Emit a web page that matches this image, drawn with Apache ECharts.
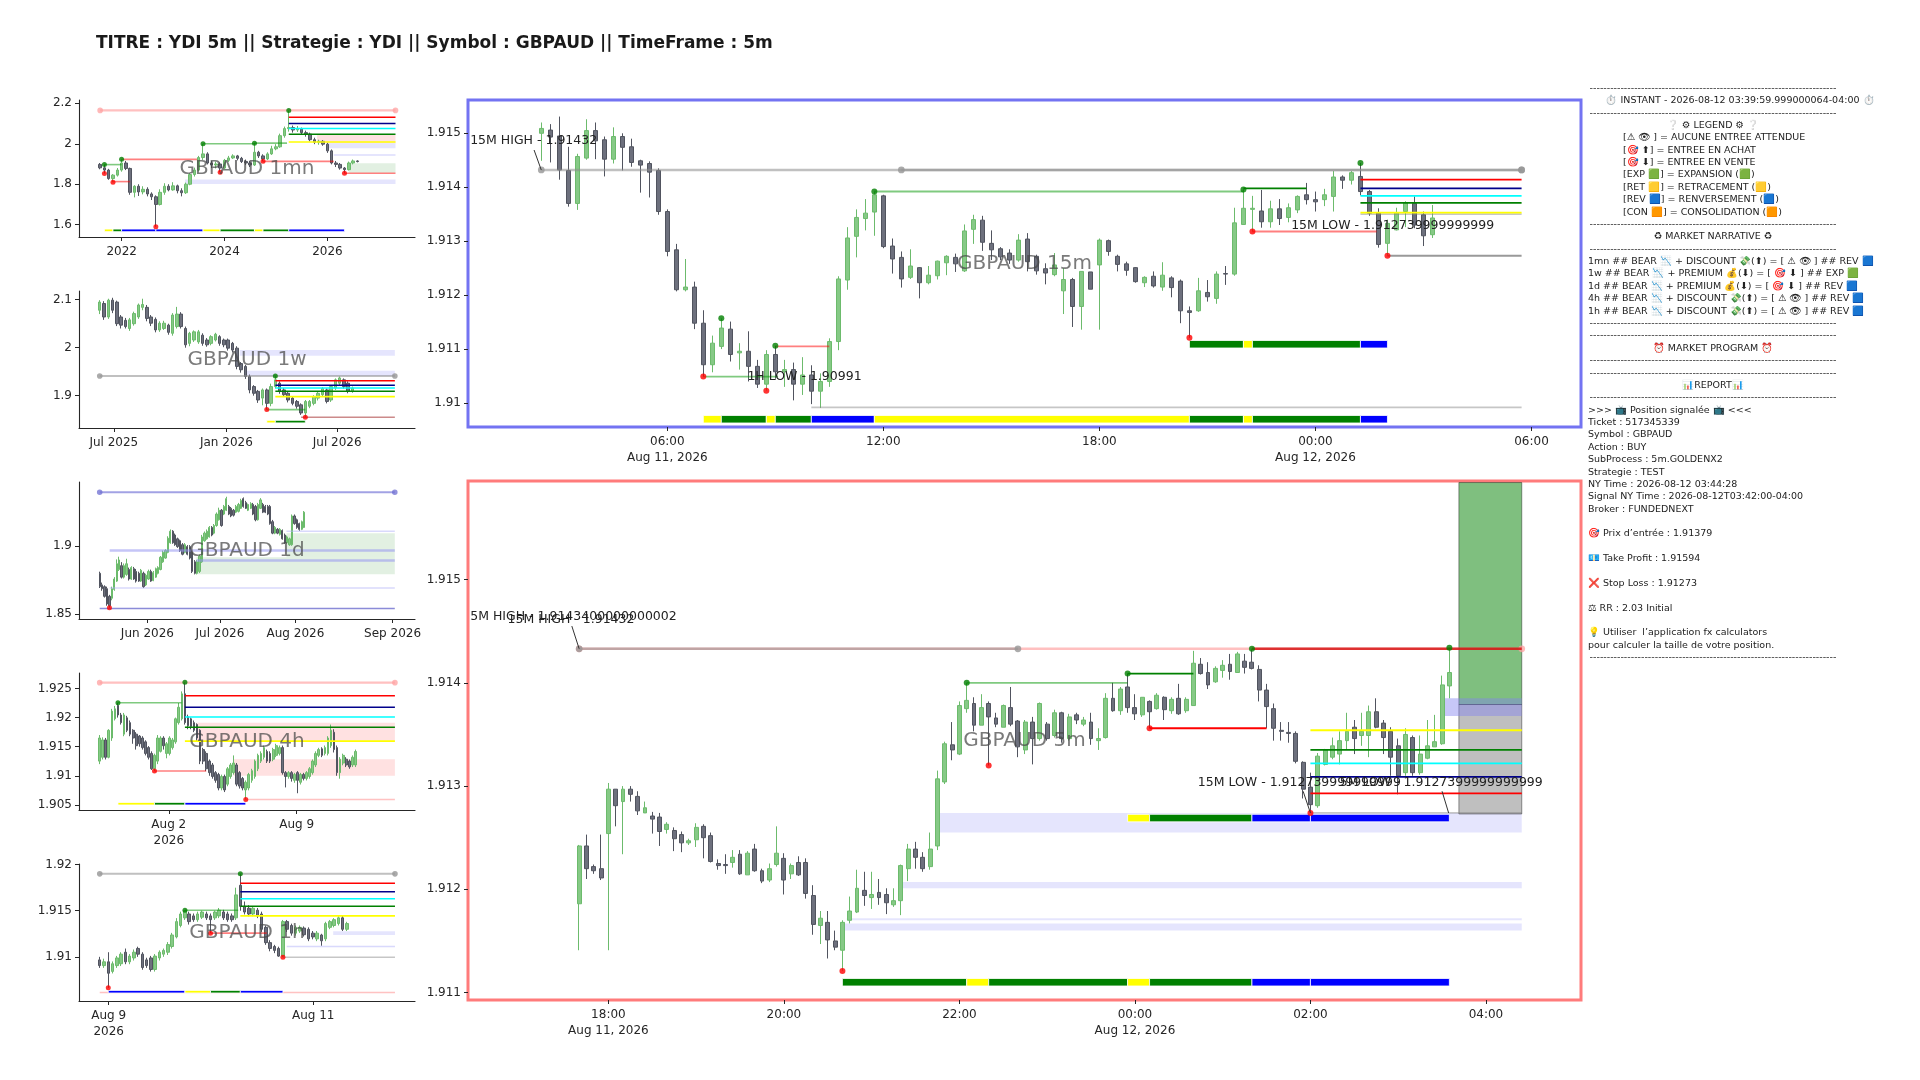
<!DOCTYPE html>
<html>
<head>
<meta charset="utf-8">
<title>YDI 5m GBPAUD</title>
<script src="https://cdn.jsdelivr.net/npm/echarts@6/dist/echarts.min.js"></script>
<style>
  html, body { margin: 0; padding: 0; background: #fff; }
  #chart { width: 1920px; height: 1080px; }
</style>
</head>
<body>
<div id="chart"></div>
<script>
// ---------- data (x in candle index units, prices) ----------
// candles are [open, close, low, high]

const m1Candles = [
  [1.898,1.881,1.874,1.905],[1.881,1.870,1.853,1.897],[1.870,1.828,1.822,1.876],[1.828,1.845,1.810,1.850],
  [1.845,1.870,1.838,1.880],[1.870,1.905,1.862,1.923],[1.905,1.878,1.870,1.915],[1.878,1.760,1.748,1.882],
  [1.760,1.790,1.735,1.795],[1.790,1.762,1.742,1.800],[1.762,1.775,1.750,1.790],[1.775,1.752,1.740,1.785],
  [1.752,1.738,1.722,1.760],[1.738,1.700,1.590,1.745],[1.700,1.760,1.695,1.775],[1.760,1.790,1.748,1.805],
  [1.790,1.772,1.765,1.800],[1.772,1.792,1.768,1.810],[1.792,1.768,1.755,1.798],[1.768,1.758,1.740,1.780],
  [1.758,1.800,1.752,1.808],[1.800,1.848,1.795,1.855],[1.848,1.870,1.838,1.882],[1.870,1.932,1.865,1.940],
  [1.932,1.950,1.920,2.000],[1.950,1.905,1.898,1.958],[1.905,1.895,1.880,1.915],[1.895,1.900,1.878,1.912],
  [1.900,1.880,1.859,1.908],[1.880,1.918,1.875,1.925],[1.918,1.930,1.910,1.940],[1.930,1.940,1.925,1.948],
  [1.940,1.928,1.918,1.945],[1.928,1.912,1.905,1.935],[1.912,1.905,1.895,1.922],[1.905,1.895,1.885,1.915],
  [1.895,1.958,1.890,2.003],[1.958,1.940,1.930,1.965],[1.940,1.925,1.913,1.948],[1.925,1.950,1.920,1.958],
  [1.950,1.975,1.945,1.990],[1.975,1.985,1.968,1.998],[1.985,2.040,1.980,2.050],[2.040,2.075,2.030,2.085],
  [2.075,2.080,2.060,2.164],[2.080,2.068,2.055,2.090],[2.068,2.072,2.058,2.088],[2.072,2.055,2.045,2.080],
  [2.055,2.048,2.035,2.065],[2.048,2.020,2.012,2.055],[2.020,2.008,1.998,2.030],[2.008,2.012,1.995,2.020],
  [2.012,1.998,1.990,2.018],[1.998,1.965,1.955,2.005],[1.965,1.905,1.898,1.972],[1.905,1.898,1.885,1.915],
  [1.898,1.880,1.872,1.905],[1.880,1.872,1.854,1.885],[1.872,1.905,1.868,1.912],[1.905,1.915,1.898,1.922],
  [1.915,1.912,1.908,1.918]
];

const w1Candles = [
  [2.078,2.095,2.070,2.099],[2.092,2.064,2.058,2.097],[2.064,2.099,2.060,2.102],[2.099,2.078,2.072,2.104],
  [2.095,2.050,2.045,2.098],[2.064,2.047,2.040,2.068],[2.057,2.044,2.040,2.062],[2.040,2.058,2.035,2.062],
  [2.050,2.071,2.046,2.075],[2.064,2.089,2.060,2.092],[2.084,2.090,2.078,2.102],[2.084,2.061,2.055,2.089],
  [2.064,2.051,2.045,2.068],[2.059,2.037,2.032,2.063],[2.037,2.051,2.033,2.055],[2.040,2.051,2.037,2.056],
  [2.047,2.032,2.027,2.050],[2.030,2.068,2.025,2.072],[2.044,2.070,2.040,2.085],[2.070,2.044,2.040,2.074],
  [2.040,2.006,2.000,2.044],[2.009,2.030,2.003,2.033],[2.016,2.033,2.012,2.036],[2.012,2.033,2.008,2.037],
  [2.026,2.009,2.004,2.030],[2.016,2.006,2.002,2.020],[2.009,2.023,2.005,2.026],[2.016,2.028,2.013,2.031],
  [2.023,2.009,2.004,2.026],[2.016,2.006,2.001,2.019],[2.016,1.999,1.994,2.019],[2.009,1.995,1.990,2.012],
  [1.999,1.961,1.955,2.003],[1.967,1.954,1.948,1.970],[1.961,1.940,1.935,1.964],[1.940,1.912,1.905,1.944],
  [1.919,1.905,1.900,1.922],[1.909,1.891,1.885,1.912],[1.895,1.912,1.880,1.915],[1.912,1.884,1.871,1.915],
  [1.884,1.919,1.878,1.925],[1.919,1.933,1.915,1.941],[1.926,1.909,1.904,1.930],[1.912,1.902,1.898,1.916],
  [1.905,1.891,1.886,1.908],[1.895,1.884,1.880,1.898],[1.888,1.878,1.873,1.891],[1.881,1.864,1.860,1.884],
  [1.864,1.888,1.855,1.891],[1.878,1.888,1.874,1.891],[1.884,1.898,1.880,1.901],[1.895,1.905,1.890,1.909],
  [1.902,1.915,1.898,1.918],[1.912,1.888,1.884,1.915],[1.891,1.919,1.887,1.922],[1.916,1.933,1.912,1.936],
  [1.926,1.937,1.922,1.940],[1.933,1.919,1.915,1.936],[1.926,1.909,1.905,1.930],[1.909,1.916,1.906,1.919]
];

const d1Candles = [
  [1.8798,1.8700,1.8690,1.8810],[1.8713,1.8685,1.8670,1.8730],[1.8700,1.8629,1.8620,1.8710],[1.8685,1.8573,1.8560,1.8700],
  [1.8629,1.8559,1.8545,1.8640],[1.8615,1.8685,1.8600,1.8700],[1.8680,1.8756,1.8670,1.8770],[1.8741,1.8868,1.8735,1.8900],
  [1.8826,1.8896,1.8815,1.8920],[1.8854,1.8770,1.8760,1.8880],[1.8770,1.8854,1.8760,1.8870],[1.8790,1.8868,1.8780,1.8905],
  [1.8826,1.8756,1.8745,1.8840],[1.8756,1.8840,1.8750,1.8850],[1.8832,1.8756,1.8750,1.8845],[1.8812,1.8741,1.8730,1.8830],
  [1.8798,1.8741,1.8735,1.8810],[1.8741,1.8820,1.8735,1.8830],[1.8798,1.8700,1.8690,1.8810],[1.8713,1.8784,1.8705,1.8795],
  [1.8756,1.8812,1.8750,1.8825],[1.8812,1.8741,1.8735,1.8825],[1.8745,1.8803,1.8740,1.8815],[1.8770,1.8832,1.8765,1.8840],
  [1.8798,1.8840,1.8790,1.8850],[1.8826,1.8916,1.8820,1.8925],[1.8882,1.8952,1.8875,1.8965],[1.8910,1.8966,1.8905,1.8975],
  [1.8952,1.9056,1.8945,1.9070],[1.9022,1.9107,1.9015,1.9120],[1.9107,1.9022,1.9015,1.9115],[1.9079,1.9008,1.9000,1.9090],
  [1.9051,1.8994,1.8985,1.9060],[1.9037,1.8966,1.8955,1.9045],[1.9008,1.8938,1.8930,1.9020],[1.8952,1.9008,1.8945,1.9020],
  [1.8994,1.8938,1.8930,1.9005],[1.8994,1.8910,1.8900,1.9005],[1.8952,1.8812,1.8800,1.8965],[1.8882,1.8798,1.8790,1.8895],
  [1.8798,1.8882,1.8790,1.8895],[1.8812,1.8924,1.8800,1.8935],[1.8882,1.9065,1.8875,1.9080],[1.9037,1.9093,1.9030,1.9105],
  [1.9051,1.9107,1.9045,1.9120],[1.9065,1.9135,1.9060,1.9145],[1.9135,1.9079,1.9070,1.9145],[1.9093,1.9149,1.9085,1.9160],
  [1.9149,1.9233,1.9140,1.9245],[1.9191,1.9261,1.9185,1.9280],[1.9261,1.9149,1.9140,1.9270],[1.9233,1.9289,1.9225,1.9300],
  [1.9261,1.9346,1.9255,1.9360],[1.9289,1.9233,1.9225,1.9300],[1.9275,1.9219,1.9210,1.9285],[1.9261,1.9225,1.9215,1.9270],
  [1.9247,1.9289,1.9240,1.9300],[1.9253,1.9303,1.9245,1.9315],[1.9275,1.9332,1.9270,1.9345],[1.9346,1.9289,1.9280,1.9355],
  [1.9317,1.9275,1.9270,1.9330],[1.9261,1.9303,1.9255,1.9310],[1.9275,1.9309,1.9270,1.9320],[1.9303,1.9233,1.9225,1.9315],
  [1.9289,1.9191,1.9180,1.9300],[1.9191,1.9303,1.9185,1.9315],[1.9275,1.9337,1.9270,1.9350],[1.9303,1.9247,1.9240,1.9315],
  [1.9289,1.9247,1.9240,1.9300],[1.9289,1.9233,1.9225,1.9300],[1.9289,1.9163,1.9155,1.9300],[1.9177,1.9093,1.9085,1.9190],
  [1.9093,1.9135,1.9085,1.9145],[1.9121,1.9093,1.9085,1.9130],[1.9084,1.9121,1.9075,1.9130],[1.9112,1.9051,1.9045,1.9120],
  [1.9079,1.9022,1.9015,1.9090],[1.9022,1.9065,1.9015,1.9075],[1.9008,1.9051,1.9000,1.9060],[1.9008,1.9219,1.9000,1.9230],
  [1.9219,1.9163,1.9155,1.9230],[1.9191,1.9135,1.9125,1.9200],[1.9163,1.9121,1.9110,1.9170],[1.9121,1.9177,1.9115,1.9185],
  [1.9135,1.9247,1.9130,1.9255]
];

const h4Candles = [
  [1.91252,1.91649,1.91200,1.91700],[1.91318,1.91616,1.91280,1.91660],[1.91616,1.91318,1.91280,1.91650],[1.91318,1.91781,1.91300,1.91800],
  [1.91649,1.92111,1.91600,1.92150],[1.91979,1.92150,1.91950,1.92200],[1.92210,1.92045,1.92000,1.92256],[1.92045,1.91913,1.91880,1.92080],
  [1.91715,1.92045,1.91680,1.92080],[1.91996,1.91781,1.91750,1.92030],[1.91913,1.91715,1.91680,1.91950],[1.91781,1.91649,1.91550,1.91800],
  [1.91715,1.91517,1.91450,1.91750],[1.91682,1.91550,1.91500,1.91700],[1.91649,1.91484,1.91450,1.91680],[1.91583,1.91384,1.91350,1.91610],
  [1.91484,1.91318,1.91280,1.91510],[1.91384,1.91120,1.91100,1.91420],[1.91120,1.91351,1.91081,1.91380],[1.91252,1.91649,1.91200,1.91700],
  [1.91420,1.91649,1.91400,1.91680],[1.91649,1.91517,1.91450,1.91680],[1.91384,1.91550,1.91300,1.91580],[1.91384,1.91649,1.91350,1.91680],
  [1.91484,1.91616,1.91450,1.91650],[1.91583,1.91979,1.91550,1.92000],[1.91913,1.92177,1.91880,1.92250],[1.91979,1.92408,1.91950,1.92450],
  [1.92408,1.91913,1.91880,1.92606],[1.92012,1.91860,1.91800,1.92050],[1.91979,1.91847,1.91800,1.92000],[1.91913,1.91781,1.91750,1.91950],
  [1.91880,1.91649,1.91600,1.91900],[1.91781,1.91252,1.91200,1.91800],[1.91450,1.91252,1.91200,1.91480],[1.91384,1.91120,1.91080,1.91420],
  [1.91252,1.91054,1.91000,1.91280],[1.91186,1.90988,1.90950,1.91220],[1.91054,1.90922,1.90880,1.91080],[1.91021,1.90790,1.90750,1.91050],
  [1.90790,1.90988,1.90750,1.91020],[1.90988,1.90757,1.90720,1.91020],[1.90856,1.91120,1.90820,1.91150],[1.90988,1.91186,1.90950,1.91220],
  [1.91054,1.91219,1.91020,1.91350],[1.91186,1.90856,1.90820,1.91220],[1.91054,1.90823,1.90780,1.91080],[1.90955,1.90790,1.90750,1.90980],
  [1.90757,1.90889,1.90592,1.90920],[1.90790,1.91021,1.90750,1.91050],[1.90922,1.91087,1.90880,1.91120],[1.90988,1.91252,1.90950,1.91280],
  [1.91120,1.91351,1.91080,1.91380],[1.91252,1.91384,1.91220,1.91420],[1.91318,1.91484,1.91280,1.91520],[1.91417,1.91252,1.91220,1.91450],
  [1.91384,1.91252,1.91220,1.91420],[1.91285,1.91450,1.91250,1.91480],[1.91351,1.91517,1.91320,1.91550],[1.91384,1.91484,1.91350,1.91520],
  [1.91484,1.91054,1.91020,1.91520],[1.91054,1.90988,1.90800,1.91080],[1.90988,1.91054,1.90950,1.91080],[1.91054,1.90955,1.90900,1.91080],
  [1.90922,1.91021,1.90880,1.91050],[1.91054,1.90922,1.90700,1.91080],[1.90889,1.91021,1.90850,1.91050],[1.91021,1.90955,1.90920,1.91050],
  [1.90955,1.91054,1.90920,1.91080],[1.90988,1.91120,1.90950,1.91150],[1.91054,1.91252,1.91020,1.91280],[1.91186,1.91384,1.91150,1.91420],
  [1.91351,1.91450,1.91320,1.91480],[1.91463,1.91351,1.91320,1.91490],[1.91384,1.91484,1.91350,1.91520],[1.91384,1.91649,1.91350,1.91680],
  [1.91517,1.91781,1.91480,1.91880],[1.91748,1.91450,1.91400,1.91800],[1.91484,1.91054,1.91000,1.91520],[1.91054,1.91285,1.90950,1.91320],
  [1.91219,1.91351,1.91180,1.91380],[1.91285,1.91186,1.91150,1.91320],[1.91252,1.91153,1.91120,1.91280],[1.91186,1.91318,1.91150,1.91350],
  [1.91186,1.91417,1.91150,1.91450]
];

const h1Candles = [
  [1.90967,1.90905,1.90880,1.91000],[1.90905,1.90946,1.90880,1.90980],[1.90946,1.90822,1.90664,1.91050],[1.90842,1.90925,1.90820,1.90950],
  [1.90905,1.90988,1.90880,1.91010],[1.90925,1.91029,1.90900,1.91050],[1.91050,1.90946,1.90920,1.91090],[1.90946,1.91008,1.90920,1.91030],
  [1.90988,1.91050,1.90960,1.91080],[1.91091,1.91029,1.91000,1.91110],[1.91029,1.90884,1.90860,1.91050],[1.90967,1.90905,1.90880,1.90990],
  [1.90988,1.90863,1.90840,1.91010],[1.90863,1.91008,1.90840,1.91030],[1.90988,1.91050,1.90960,1.91070],[1.91029,1.91070,1.91000,1.91090],
  [1.91050,1.91133,1.91020,1.91160],[1.91112,1.91237,1.91090,1.91260],[1.91216,1.91382,1.91200,1.91420],[1.91340,1.91465,1.91320,1.91490],
  [1.91423,1.91500,1.91400,1.91506],[1.91465,1.91382,1.91350,1.91490],[1.91444,1.91403,1.91380,1.91470],[1.91403,1.91465,1.91380,1.91490],
  [1.91430,1.91486,1.91410,1.91500],[1.91465,1.91423,1.91400,1.91490],[1.91444,1.91403,1.91257,1.91470],[1.91423,1.91486,1.91400,1.91500],
  [1.91444,1.91506,1.91420,1.91530],[1.91486,1.91423,1.91400,1.91510],[1.91465,1.91403,1.91380,1.91490],[1.91444,1.91403,1.91380,1.91470],
  [1.91423,1.91672,1.91400,1.91750],[1.91776,1.91548,1.91500,1.91900],[1.91548,1.91486,1.91460,1.91600],[1.91527,1.91465,1.91440,1.91560],
  [1.91465,1.91527,1.91440,1.91550],[1.91506,1.91444,1.91420,1.91530],[1.91465,1.91299,1.91270,1.91490],[1.91320,1.91154,1.91130,1.91340],
  [1.91154,1.91091,1.91060,1.91180],[1.91112,1.91070,1.91040,1.91130],[1.91091,1.91008,1.91000,1.91110],[1.91008,1.91382,1.90996,1.91400],
  [1.91382,1.91299,1.91270,1.91400],[1.91340,1.91257,1.91230,1.91360],[1.91257,1.91320,1.91230,1.91340],[1.91280,1.91320,1.91260,1.91340],
  [1.91312,1.91240,1.91220,1.91330],[1.91299,1.91195,1.91170,1.91320],[1.91257,1.91216,1.91190,1.91280],[1.91195,1.91257,1.91170,1.91280],
  [1.91237,1.91174,1.91120,1.91250],[1.91195,1.91361,1.91170,1.91380],[1.91320,1.91382,1.91300,1.91400],[1.91340,1.91403,1.91320,1.91420],
  [1.91361,1.91423,1.91340,1.91440],[1.91423,1.91299,1.91280,1.91450],[1.91299,1.91361,1.91280,1.91380]
];

// 15m, Aug 11 02:30 -> Aug 12 03:15
const m15Candles = [
  [1.91500,1.91509,1.91449,1.91520],[1.91506,1.91493,1.91446,1.91517],[1.91495,1.91432,1.91414,1.91531],[1.91431,1.91370,1.91364,1.91475],
  [1.91370,1.91457,1.91358,1.91462],[1.91454,1.91505,1.91451,1.91526],[1.91505,1.91486,1.91452,1.91520],[1.91488,1.91452,1.91420,1.91494],
  [1.91452,1.91494,1.91444,1.91511],[1.91494,1.91474,1.91431,1.91500],[1.91475,1.91446,1.91438,1.91490],[1.91449,1.91441,1.91390,1.91451],
  [1.91444,1.91428,1.91381,1.91448],[1.91431,1.91355,1.91349,1.91435],[1.91355,1.91281,1.91272,1.91359],[1.91284,1.91210,1.91207,1.91295],
  [1.91210,1.91215,1.91207,1.91267],[1.91215,1.91148,1.91137,1.91225],[1.91148,1.91071,1.91049,1.91172],[1.91071,1.91111,1.91057,1.91125],
  [1.91105,1.91139,1.91100,1.91157],[1.91137,1.91090,1.91077,1.91151],[1.91093,1.91096,1.91062,1.91111],[1.91096,1.91068,1.91040,1.91133],
  [1.91068,1.91035,1.91028,1.91080],[1.91035,1.91090,1.91023,1.91098],[1.91090,1.91058,1.91045,1.91106],[1.91058,1.91062,1.91030,1.91080],
  [1.91062,1.91035,1.91005,1.91075],[1.91035,1.91052,1.91015,1.91085],[1.91052,1.91022,1.90998,1.91070],[1.91022,1.91040,1.90991,1.91055],
  [1.91040,1.91114,1.91030,1.91120],[1.91114,1.91230,1.91098,1.91235],[1.91228,1.91306,1.91210,1.91326],[1.91309,1.91344,1.91270,1.91359],
  [1.91342,1.91352,1.91320,1.91378],[1.91354,1.91386,1.91310,1.91392],[1.91384,1.91290,1.91287,1.91386],[1.91291,1.91267,1.91240,1.91305],
  [1.91270,1.91230,1.91214,1.91281],[1.91233,1.91254,1.91230,1.91285],[1.91251,1.91223,1.91194,1.91252],[1.91223,1.91237,1.91220,1.91254],
  [1.91236,1.91263,1.91229,1.91264],[1.91260,1.91272,1.91237,1.91274],[1.91270,1.91258,1.91243,1.91277],[1.91245,1.91319,1.91243,1.91331],
  [1.91322,1.91340,1.91295,1.91349],[1.91339,1.91298,1.91282,1.91347],[1.91296,1.91284,1.91265,1.91320],[1.91286,1.91271,1.91265,1.91289],
  [1.91278,1.91265,1.91258,1.91285],[1.91265,1.91302,1.91262,1.91313],[1.91304,1.91262,1.91244,1.91315],[1.91272,1.91245,1.91238,1.91275],
  [1.91249,1.91241,1.91220,1.91259],[1.91238,1.91256,1.91235,1.91278],[1.91208,1.91229,1.91165,1.91250],[1.91229,1.91179,1.91141,1.91232],
  [1.91179,1.91244,1.91136,1.91244],[1.91243,1.91211,1.91211,1.91243],[1.91256,1.91302,1.91136,1.91305],[1.91301,1.91281,1.91273,1.91303],
  [1.91272,1.91257,1.91244,1.91275],[1.91258,1.91246,1.91236,1.91262],[1.91251,1.91225,1.91223,1.91252],[1.91223,1.91233,1.91215,1.91235],
  [1.91235,1.91217,1.91214,1.91244],[1.91215,1.91237,1.91208,1.91261],[1.91232,1.91214,1.91196,1.91235],[1.91226,1.91171,1.91148,1.91229],
  [1.91171,1.91168,1.91121,1.91179],[1.91171,1.91208,1.91169,1.91232],[1.91205,1.91197,1.91188,1.91228],[1.91194,1.91239,1.91184,1.91244],
  [1.91240,1.91239,1.91219,1.91254],[1.91239,1.91334,1.91236,1.91362],[1.91331,1.91361,1.91331,1.91396],[1.91359,1.91361,1.91318,1.91384],
  [1.91356,1.91336,1.91325,1.91395],[1.91336,1.91360,1.91325,1.91375],[1.91360,1.91342,1.91330,1.91378],[1.91344,1.91362,1.91335,1.91370],
  [1.91358,1.91383,1.91352,1.91385],[1.91386,1.91377,1.91368,1.91408],[1.91377,1.91373,1.91355,1.91392],[1.91377,1.91386,1.91365,1.91397],
  [1.91383,1.91419,1.91355,1.91430],[1.91419,1.91413,1.91397,1.91422],[1.91413,1.91427,1.91405,1.91430],[1.91420,1.91392,1.91385,1.91445],
  [1.91392,1.91352,1.91347,1.91395],[1.91352,1.91294,1.91288,1.91361],[1.91296,1.91333,1.91273,1.91340],[1.91321,1.91352,1.91320,1.91362],
  [1.91355,1.91371,1.91326,1.91374],[1.91370,1.91330,1.91324,1.91383],[1.91349,1.91310,1.91291,1.91355],[1.91312,1.91343,1.91306,1.91367]
];

// 5m, Aug 11 17:40 -> Aug 12 03:35
const m5Candles = [
  [1.91186,1.91242,1.91141,1.91243],[1.91242,1.91220,1.91210,1.91253],[1.91222,1.91218,1.91215,1.91224],[1.91220,1.91211,1.91209,1.91253],
  [1.91254,1.91297,1.91141,1.91303],[1.91297,1.91281,1.91261,1.91297],[1.91285,1.91297,1.91234,1.91300],[1.91297,1.91292,1.91285,1.91300],
  [1.91290,1.91276,1.91272,1.91295],[1.91274,1.91279,1.91274,1.91285],[1.91271,1.91268,1.91254,1.91275],[1.91270,1.91256,1.91242,1.91274],
  [1.91258,1.91263,1.91254,1.91265],[1.91257,1.91249,1.91237,1.91260],[1.91253,1.91245,1.91236,1.91256],[1.91245,1.91247,1.91243,1.91249],
  [1.91248,1.91260,1.91241,1.91264],[1.91261,1.91250,1.91230,1.91263],[1.91252,1.91227,1.91226,1.91255],[1.91225,1.91223,1.91219,1.91229],
  [1.91224,1.91223,1.91215,1.91234],[1.91226,1.91231,1.91221,1.91238],[1.91234,1.91215,1.91214,1.91238],[1.91214,1.91235,1.91214,1.91237],
  [1.91239,1.91218,1.91217,1.91244],[1.91218,1.91208,1.91206,1.91220],[1.91209,1.91220,1.91207,1.91225],[1.91224,1.91235,1.91222,1.91261],
  [1.91230,1.91209,1.91195,1.91235],[1.91215,1.91223,1.91210,1.91225],[1.91226,1.91214,1.91213,1.91232],[1.91226,1.91196,1.91191,1.91230],
  [1.91194,1.91166,1.91156,1.91204],[1.91165,1.91172,1.91147,1.91179],[1.91168,1.91151,1.91133,1.91179],[1.91150,1.91144,1.91141,1.91160],
  [1.91141,1.91168,1.91121,1.91170],[1.91170,1.91179,1.91167,1.91193],[1.91178,1.91201,1.91177,1.91219],[1.91199,1.91194,1.91184,1.91217],
  [1.91192,1.91195,1.91181,1.91217],[1.91197,1.91192,1.91185,1.91210],[1.91195,1.91187,1.91176,1.91201],[1.91185,1.91189,1.91183,1.91201],
  [1.91189,1.91223,1.91175,1.91224],[1.91220,1.91239,1.91208,1.91244],[1.91239,1.91231,1.91220,1.91246],[1.91231,1.91220,1.91217,1.91236],
  [1.91222,1.91239,1.91219,1.91255],[1.91242,1.91307,1.91238,1.91315],[1.91304,1.91341,1.91302,1.91343],[1.91340,1.91335,1.91325,1.91362],
  [1.91331,1.91378,1.91330,1.91382],[1.91375,1.91383,1.91371,1.91400],[1.91380,1.91359,1.91353,1.91386],[1.91359,1.91376,1.91359,1.91389],
  [1.91380,1.91367,1.91320,1.91382],[1.91366,1.91360,1.91357,1.91371],[1.91357,1.91378,1.91357,1.91379],[1.91376,1.91360,1.91358,1.91396],
  [1.91363,1.91338,1.91328,1.91364],[1.91335,1.91362,1.91331,1.91364],[1.91362,1.91346,1.91321,1.91367],[1.91346,1.91380,1.91344,1.91381],
  [1.91360,1.91346,1.91344,1.91362],[1.91349,1.91371,1.91347,1.91374],[1.91371,1.91346,1.91342,1.91372],[1.91346,1.91367,1.91344,1.91370],
  [1.91369,1.91364,1.91360,1.91371],[1.91360,1.91364,1.91358,1.91367],[1.91362,1.91346,1.91340,1.91371],[1.91344,1.91346,1.91335,1.91356],
  [1.91347,1.91385,1.91346,1.91390],[1.91385,1.91373,1.91372,1.91400],[1.91373,1.91394,1.91369,1.91396],[1.91396,1.91376,1.91371,1.91409],
  [1.91376,1.91370,1.91364,1.91389],[1.91369,1.91386,1.91367,1.91386],[1.91382,1.91372,1.91356,1.91383],[1.91375,1.91388,1.91374,1.91390],
  [1.91386,1.91374,1.91364,1.91387],[1.91373,1.91384,1.91370,1.91386],[1.91385,1.91370,1.91369,1.91399],[1.91373,1.91384,1.91371,1.91386],
  [1.91378,1.91419,1.91378,1.91431],[1.91418,1.91409,1.91408,1.91424],[1.91410,1.91398,1.91394,1.91420],[1.91401,1.91414,1.91400,1.91416],
  [1.91412,1.91417,1.91405,1.91422],[1.91418,1.91411,1.91403,1.91428],[1.91410,1.91428,1.91410,1.91430],[1.91421,1.91415,1.91409,1.91428],
  [1.91420,1.91414,1.91413,1.91433],[1.91413,1.91393,1.91382,1.91417],[1.91393,1.91377,1.91356,1.91399],[1.91375,1.91356,1.91344,1.91380],
  [1.91354,1.91353,1.91344,1.91362],[1.91352,1.91351,1.91342,1.91362],[1.91351,1.91324,1.91322,1.91353],[1.91323,1.91297,1.91288,1.91324],
  [1.91299,1.91282,1.91274,1.91313],[1.91281,1.91329,1.91279,1.91332],[1.91321,1.91335,1.91320,1.91336],[1.91328,1.91339,1.91326,1.91347],
  [1.91331,1.91344,1.91321,1.91353],[1.91344,1.91353,1.91335,1.91371],[1.91357,1.91346,1.91331,1.91364],[1.91349,1.91353,1.91339,1.91371],
  [1.91349,1.91372,1.91328,1.91378],[1.91372,1.91357,1.91356,1.91385],[1.91361,1.91347,1.91331,1.91364],[1.91353,1.91328,1.91310,1.91357],
  [1.91339,1.91310,1.91292,1.91346],[1.91313,1.91350,1.91310,1.91356],[1.91347,1.91313,1.91310,1.91349],[1.91313,1.91331,1.91311,1.91349],
  [1.91327,1.91339,1.91326,1.91364],[1.91338,1.91343,1.91338,1.91369],[1.91341,1.91398,1.91340,1.91407],[1.91397,1.91410,1.91385,1.91434]
];

// horizontal levels: [fromIndex, toIndex, price, kind]
const m1Levels = [
  [0,68.9,2.165,'liqPink'],[44,68.9,2.131,'r'],[44,68.9,2.100,'n'],[44,68.9,2.075,'c'],[44,68.9,2.047,'g'],[44,68.9,2.009,'y'],
  [57,68.9,1.854,'lo'],[38,54.5,1.913,'lo'],[5,22.6,1.923,'lo'],[3,7,1.813,'lo'],[1,5,1.897,'hi'],[24,36,2.000,'hi'],[36,43.6,2.003,'hi']
];
const w1Levels = [
  [0,68.9,1.941,'liqGray'],[41,68.9,1.931,'r'],[41,68.9,1.922,'n'],[41,68.9,1.916,'c'],[41,68.9,1.909,'g'],[41,68.9,1.898,'y'],
  [39,48,1.871,'hi'],[47,68.9,1.855,'brown']
];
const d1Levels = [
  [0,121.2,1.9393,'liqBlue'],[0,121.2,1.8539,'blue'],[4.1,121.2,1.8966,'lav'],[39.7,121.2,1.8893,'lav'],
  [76.7,121.2,1.9107,'lavThin'],[4.1,121.2,1.8690,'lavThin']
];
const h4Levels = [
  [0,97,1.92600,'liqPink'],[28,97,1.92375,'r'],[28,97,1.92177,'n'],[28,97,1.92012,'c'],[28,97,1.91833,'g'],[28,97,1.91596,'y'],
  [6,26.9,1.92256,'hi'],[18,35,1.91081,'lo'],[48,97,1.90592,'pink']
];
const h1Levels = [
  [0,69.3,1.91900,'liqGray'],[33,69.3,1.91797,'r'],[33,69.3,1.91705,'n'],[33,69.3,1.91631,'c'],[33,69.3,1.91548,'g'],[33,69.3,1.91444,'y'],
  [20,32.5,1.91506,'hi'],[26,39.2,1.91257,'lo'],[43,69.3,1.90996,'lgray'],[0,69.3,1.90614,'pink'],[43.9,69.3,1.91112,'lavThin']
];
const m15Levels = [
  [0,108.9,1.91432,'liqGray'],[40,108.9,1.91432,'liqGray'],[37,78,1.91392,'hi'],[78,85,1.91398,'g'],[79,92.8,1.91318,'lo'],
  [91,108.9,1.91414,'r'],[91,108.9,1.91398,'n'],[91,108.9,1.91384,'c'],[91,108.9,1.91371,'g'],[91,108.9,1.91350,'lgray'],[91,108.9,1.91353,'y'],
  [94,108.9,1.91273,'gray'],[26,32,1.91105,'lo'],[18,26.3,1.91049,'hi'],[30,108.9,1.90992,'lgray']
];
const m5Levels = [
  [0,128.9,1.91433,'liqPink'],[0,60,1.91433,'liqGray'],[92,128.9,1.91433,'dred'],[53,75,1.91400,'hi'],[75,84,1.91409,'g'],
  [78,94,1.91356,'r'],[100,128.9,1.91354,'y'],[100,128.9,1.91335,'g'],[100,128.9,1.91322,'c'],[100,128.9,1.91309,'n'],
  [100,128.9,1.91293,'r'],[100,128.9,1.91274,'lgray']
];

// zones: [fromIndex, toIndex, lowPrice, highPrice, kind]
const m1Zones = [
  [50.6,68.9,2.0021,2.0434,'red'],[53.3,68.9,1.9773,2.0021,'lav'],[54.5,68.9,1.9396,1.9495,'lav'],
  [58,68.9,1.857,1.9033,'green'],[19.8,68.9,1.801,1.824,'lav']
];
const w1Zones = [[32.7,68.9,1.983,1.995,'lav'],[33.9,68.9,1.941,1.952,'lav']];
const d1Zones = [[39.7,121.2,1.8792,1.8916,'green'],[76.7,121.2,1.8916,1.9093,'green']];
const h4Zones = [[31.8,97,1.91596,1.91913,'red'],[43.9,97,1.91002,1.91286,'red']];
const h1Zones = [[54.8,69.3,1.91237,1.91278,'lav']];
const m15Zones = [];
const m5Zones = [
  [48.9,128.9,1.91255,1.91274,'lav'],[44.1,128.9,1.91201,1.91207,'lav'],[36.6,128.9,1.91170,1.91172,'lav'],
  [36.2,128.9,1.91160,1.91167,'lav'],[120.3,128.9,1.91379,1.91594,'tp'],[120.3,128.9,1.91273,1.91379,'sl'],
  [118,128.9,1.91368,1.91385,'lav2']
];

// phase bars: [fromIndex, toIndex, price, kind]  y = retracement, g = expansion, b = reversal
const m1Bars = [[1,3,1.572,'y'],[3,5,1.572,'g'],[5,13,1.572,'b'],[13,24,1.572,'b'],[24,28,1.572,'y'],[28,36,1.572,'g'],[36,38,1.572,'y'],[38,44,1.572,'g'],[44,57,1.572,'b']];
const w1Bars = [[39,41,1.846,'y'],[41,48,1.846,'g']];
const d1Bars = [];
const h4Bars = [[6,18,1.9052,'y'],[18,28,1.9052,'g'],[28,48,1.9052,'b']];
const h1Bars = [[2,20,1.90622,'b'],[20,26,1.90622,'y'],[26,33,1.90622,'g'],[33,43,1.90622,'b']];
const m15Bars = [
  [72,78,1.91109,'g'],[78,79,1.91109,'y'],[79,91,1.91109,'g'],[91,94,1.91109,'b'],
  [18,20,1.90970,'y'],[20,25,1.90970,'g'],[25,26,1.90970,'y'],[26,30,1.90970,'g'],[30,37,1.90970,'b'],[37,72,1.90970,'y'],
  [72,78,1.90970,'g'],[78,79,1.90970,'y'],[79,91,1.90970,'g'],[91,94,1.90970,'b']
];
const m5Bars = [
  [75,78,1.91269,'y'],[78,92,1.91269,'g'],[92,100,1.91269,'b'],[100,119,1.91269,'b'],
  [36,53,1.91110,'g'],[53,56,1.91110,'y'],[56,75,1.91110,'g'],[75,78,1.91110,'y'],[78,92,1.91110,'g'],[92,100,1.91110,'b'],[100,119,1.91110,'b']
];

// swing points: [index, price]
const m1Lows = [[1,1.853],[3,1.810],[13,1.590],[28,1.859],[38,1.913],[57,1.854]];
const m1Highs = [[1,1.897],[5,1.923],[24,2.000],[36,2.003],[44,2.164]];
const w1Lows = [[39,1.871],[48,1.855]];
const w1Highs = [[41,1.941]];
const d1Lows = [[4,1.8545]];
const d1Highs = [];
const h4Lows = [[18,1.91081],[48,1.90592]];
const h4Highs = [[6,1.92256],[28,1.92606]];
const h1Lows = [[2,1.90664],[26,1.91257],[43,1.90996]];
const h1Highs = [[20,1.91506],[33,1.91900]];
const m15Lows = [[18,1.91049],[25,1.91023],[72,1.91121],[79,1.91318],[94,1.91273]];
const m15Highs = [[20,1.91157],[26,1.91106],[37,1.91392],[78,1.91396],[91,1.91445]];
const m5Lows = [[36,1.91121],[56,1.91320],[78,1.91356],[100,1.91274]];
const m5Highs = [[53,1.91400],[75,1.91409],[92,1.91433],[119,1.91434]];

// annotations: [text, index, price]   leaders: [fromIndex, fromPrice, toIndex, toPrice]
const m15Notes = [['15M HIGH - 1.91432',-7.9,1.91486],['1H LOW - 1.90991',22.9,1.91049],['15M LOW - 1.912739999999999',83.3,1.91329]];
const m15Leaders = [[-0.8,1.91469,0,1.91432]];
const m5Notes = [
  ['5M HIGH - 1.9143400000000002',-14.9,1.91464],['15M HIGH - 1.91432',-9.8,1.91461],
  ['15M LOW - 1.912739999999999',84.6,1.91303],['5M LOW - 1.9127399999999999',104,1.91303]
];
const m5Leaders = [[-1.0,1.91455,0,1.91433],[99,1.91295,100,1.91274],[118,1.91295,118.9,1.91274]];

// axis ticks
const m1XTicks = [[5.03,'2022'],[29.01,'2024'],[53.02,'2026']];
const w1XTicks = [[3.29,'Jul 2025'],[29.57,'Jan 2026'],[55.43,'Jul 2026']];
const d1XTicks = [[19.6,'Jun 2026'],[49.4,'Jul 2026'],[80.4,'Aug 2026'],[120.3,'Sep 2026']];
const h4XTicks = [[22.7,'Aug 2\n2026'],[64.7,'Aug 9']];
const h1XTicks = [[2.1,'Aug 9\n2026'],[50.1,'Aug 11']];
const m15XTicks = [[14,'06:00\nAug 11, 2026'],[38,'12:00'],[62,'18:00'],[86,'00:00\nAug 12, 2026'],[110,'06:00']];
const m5XTicks = [[4,'18:00\nAug 11, 2026'],[28,'20:00'],[52,'22:00'],[76,'00:00\nAug 12, 2026'],[100,'02:00'],[124,'04:00']];

const m1YTicks = ['1.6','1.8','2','2.2'];
const w1YTicks = ['1.9','2','2.1'];
const d1YTicks = ['1.85','1.9'];
const h4YTicks = ['1.905','1.91','1.915','1.92','1.925'];
const h1YTicks = ['1.91','1.915','1.92'];
const m15YTicks = ['1.91','1.911','1.912','1.913','1.914','1.915'];
const m5YTicks = ['1.911','1.912','1.913','1.914','1.915'];

const panelLines = [
  ['-','c'],
  ['⏱️ INSTANT - 2026-08-12 03:39:59.999000064-04:00 ⏱️','w'],
  ['-','c'],
  ['❔ ⚙ LEGEND ⚙ ❔','c'],
  ['[⚠ 👁 ] = AUCUNE ENTREE ATTENDUE','i'],
  ['[🎯 ⬆] = ENTREE EN ACHAT','i'],
  ['[🎯 ⬇] = ENTREE EN VENTE','i'],
  ['[EXP 🟩] = EXPANSION (🟩)','i'],
  ['[RET 🟨] = RETRACEMENT (🟨)','i'],
  ['[REV 🟦] = RENVERSEMENT (🟦)','i'],
  ['[CON 🟧] = CONSOLIDATION (🟧)','i'],
  ['-','c'],
  ['♻ MARKET NARRATIVE ♻','c'],
  ['-','c'],
  ['1mn ## BEAR 📉 + DISCOUNT 💸(⬆) = [ ⚠ 👁 ] ## REV 🟦','l'],
  ['1w ## BEAR 📉 + PREMIUM 💰(⬇) = [ 🎯 ⬇ ] ## EXP 🟩','l'],
  ['1d ## BEAR 📉 + PREMIUM 💰(⬇) = [ 🎯 ⬇ ] ## REV 🟦','l'],
  ['4h ## BEAR 📉 + DISCOUNT 💸(⬆) = [ ⚠ 👁 ] ## REV 🟦','l'],
  ['1h ## BEAR 📉 + DISCOUNT 💸(⬆) = [ ⚠ 👁 ] ## REV 🟦','l'],
  ['-','c'],
  ['-','c'],
  ['⏰ MARKET PROGRAM ⏰','c'],
  ['-','c'],
  ['-','c'],
  ['📊REPORT📊','c'],
  ['-','c'],
  ['>>> 📺 Position signalée 📺 <<<','l'],
  ['Ticket : 517345339','l'],
  ['Symbol : GBPAUD','l'],
  ['Action : BUY','l'],
  ['SubProcess : 5m.GOLDENX2','l'],
  ['Strategie : TEST','l'],
  ['NY Time : 2026-08-12 03:44:28','l'],
  ['Signal NY Time : 2026-08-12T03:42:00-04:00','l'],
  ['Broker : FUNDEDNEXT','l'],
  ['','l'],
  ['🎯 Prix d’entrée : 1.91379','l'],
  ['','l'],
  ['💶 Take Profit : 1.91594','l'],
  ['','l'],
  ['❌ Stop Loss : 1.91273','l'],
  ['','l'],
  ['⚖ RR : 2.03 Initial','l'],
  ['','l'],
  ['💡 Utiliser  l’application fx calculators','l'],
  ['pour calculer la taille de votre position.','l'],
  ['-','c']
];

const titleText = 'TITRE : YDI 5m || Strategie : YDI || Symbol : GBPAUD || TimeFrame : 5m';

// ---------- styles and layout ----------
const FONT = 'DejaVu Sans';
const INK = '#262626';
const UP = '#86c986', UP_B = '#6cbb6c', DOWN = '#6d707d', DOWN_B = '#51545f';

const LINE_KIND = {
  r: {color: '#ff0000', w: 1.5},
  n: {color: '#00008b', w: 1.5},
  c: {color: '#00ffff', w: 1.5},
  g: {color: '#008000', w: 1.5},
  y: {color: '#ffff00', w: 1.6},
  hi: {color: 'rgba(0,150,0,0.5)', w: 1.6},
  lo: {color: 'rgba(255,0,0,0.5)', w: 1.6},
  gray: {color: '#999999', w: 1.5},
  lgray: {color: 'rgba(128,128,128,0.45)', w: 1.5},
  pink: {color: 'rgba(255,120,120,0.45)', w: 1.5},
  brown: {color: 'rgba(170,60,60,0.6)', w: 1.5},
  blue: {color: 'rgba(90,90,200,0.7)', w: 1.5},
  lav: {color: 'rgba(150,150,240,0.55)', w: 2.5},
  lavThin: {color: 'rgba(180,180,250,0.5)', w: 1.5},
  dred: {color: 'rgba(210,0,0,0.75)', w: 2},
  liqPink: {color: 'rgba(255,140,140,0.55)', w: 2.2, dot: 'rgba(255,160,160,0.75)'},
  liqGray: {color: 'rgba(140,140,140,0.55)', w: 2, dot: 'rgba(150,150,150,0.8)'},
  liqBlue: {color: 'rgba(100,100,210,0.6)', w: 2, dot: 'rgba(110,110,210,0.75)'}
};
const ZONE_KIND = {
  red: {fill: 'rgba(255,120,120,0.22)'},
  green: {fill: 'rgba(110,180,110,0.2)'},
  lav: {fill: 'rgba(170,170,250,0.3)'},
  lav2: {fill: 'rgba(130,130,240,0.45)'},
  tp: {fill: 'rgba(0,128,0,0.5)', stroke: 'rgba(0,0,0,0.4)', lineWidth: 1},
  sl: {fill: 'rgba(128,128,128,0.5)', stroke: 'rgba(0,0,0,0.4)', lineWidth: 1}
};
const BAR_KIND = {y: '#ffff00', g: '#008000', b: '#0000ff'};

const charts = [
  {name: 'GBPAUD 1mn', grid: {left: 79, top: 100, width: 336, height: 137}, view: [-4.93, 73.45], y: [1.5392, 2.2163],
   candles: m1Candles, levels: m1Levels, zones: m1Zones, bars: m1Bars, lows: m1Lows, highs: m1Highs, xTicks: m1XTicks, yTicks: m1YTicks, barW: 3},
  {name: 'GBPAUD 1w', grid: {left: 79, top: 291, width: 336, height: 137}, view: [-4.84, 73.6], y: [1.8327, 2.1181],
   candles: w1Candles, levels: w1Levels, zones: w1Zones, bars: w1Bars, lows: w1Lows, highs: w1Highs, xTicks: w1XTicks, yTicks: w1YTicks, barW: 3},
  {name: 'GBPAUD 1d', grid: {left: 79, top: 482, width: 336, height: 137}, view: [-8.5, 129.5], y: [1.84626, 1.94684],
   candles: d1Candles, levels: d1Levels, zones: d1Zones, bars: d1Bars, lows: d1Lows, highs: d1Highs, xTicks: d1XTicks, yTicks: d1YTicks, barW: 1.8},
  {name: 'GBPAUD 4h', grid: {left: 79, top: 673, width: 336, height: 137}, view: [-6.8, 103.6], y: [1.90412, 1.92766],
   candles: h4Candles, levels: h4Levels, zones: h4Zones, bars: h4Bars, lows: h4Lows, highs: h4Highs, xTicks: h4XTicks, yTicks: h4YTicks, barW: 2.2},
  {name: 'GBPAUD 1h', grid: {left: 79, top: 864, width: 336, height: 137}, view: [-4.87, 74.0], y: [1.90521, 1.92007],
   candles: h1Candles, levels: h1Levels, zones: h1Zones, bars: h1Bars, lows: h1Lows, highs: h1Highs, xTicks: h1XTicks, yTicks: h1YTicks, barW: 3},
  {name: 'GBPAUD 15m', grid: {left: 468, top: 100, width: 1113, height: 327}, view: [-8.14, 115.5], y: [1.909556, 1.915617],
   candles: m15Candles, levels: m15Levels, zones: m15Zones, bars: m15Bars, lows: m15Lows, highs: m15Highs, xTicks: m15XTicks, yTicks: m15YTicks,
   barW: 5, main: true, border: '#7373f2', notes: m15Notes, leaders: m15Leaders},
  {name: 'GBPAUD 5m', grid: {left: 468, top: 481, width: 1113, height: 519}, view: [-15.2, 137.0], y: [1.910928, 1.915955],
   candles: m5Candles, levels: m5Levels, zones: m5Zones, bars: m5Bars, lows: m5Lows, highs: m5Highs, xTicks: m5XTicks, yTicks: m5YTicks,
   barW: 4.4, main: true, border: '#ff7b7b', notes: m5Notes, leaders: m5Leaders}
];

// ---------- build ----------
const grids = [], xAxes = [], yAxes = [], series = [], graphics = [];

function levelRender(list, k) {
  return function (params, api) {
    const d = list[params.dataIndex];
    const s = LINE_KIND[d[3]];
    const a = api.coord([d[0], d[2]]);
    const b = api.coord([d[1], d[2]]);
    const kids = [{type: 'line', shape: {x1: a[0], y1: a[1], x2: b[0], y2: b[1]}, style: {stroke: s.color, lineWidth: s.w * k}}];
    if (s.dot) {
      [a, b].forEach(p => kids.push({type: 'circle', shape: {cx: p[0], cy: p[1], r: 2.8 * k}, style: {fill: s.dot}}));
    }
    return {type: 'group', children: kids};
  };
}

function zoneRender(list) {
  return function (params, api) {
    const d = list[params.dataIndex];
    const a = api.coord([d[0], d[3]]);
    const b = api.coord([d[1], d[2]]);
    return {type: 'rect', shape: {x: a[0], y: a[1], width: b[0] - a[0], height: b[1] - a[1]}, style: ZONE_KIND[d[4]]};
  };
}

function barRender(list, h) {
  return function (params, api) {
    const d = list[params.dataIndex];
    const a = api.coord([d[0], d[2]]);
    const b = api.coord([d[1], d[2]]);
    return {type: 'rect', shape: {x: a[0], y: a[1] - h / 2, width: b[0] - a[0], height: h},
      style: {fill: BAR_KIND[d[3]], stroke: '#ffffff', lineWidth: 0.8}};
  };
}

function noteRender(list) {
  return function (params, api) {
    const d = list[params.dataIndex];
    const p = api.coord([d[1], d[2]]);
    return {type: 'text', x: p[0], y: p[1], style: {text: d[0], font: '12.5px ' + FONT, fill: '#222', align: 'left', verticalAlign: 'middle'}};
  };
}

function leaderRender(list) {
  return function (params, api) {
    const d = list[params.dataIndex];
    const a = api.coord([d[0], d[1]]);
    const b = api.coord([d[2], d[3]]);
    return {type: 'line', shape: {x1: a[0], y1: a[1], x2: b[0], y2: b[1]}, style: {stroke: '#333', lineWidth: 1}};
  };
}

charts.forEach((cfg, gi) => {
  const k = cfg.main ? 1.2 : 1;
  grids.push(Object.assign({
    show: !!cfg.border, borderColor: cfg.border || 'transparent', borderWidth: cfg.border ? 3 : 0,
    backgroundColor: 'transparent', containLabel: false
  }, cfg.grid));

  const xLab = new Map(cfg.xTicks.map(t => [t[0], t[1]]));
  const xVals = cfg.xTicks.map(t => t[0]);
  xAxes.push({
    type: 'value', gridIndex: gi, min: cfg.view[0], max: cfg.view[1],
    axisLine: {show: !cfg.border, onZero: false, lineStyle: {color: INK, width: 1.1}},
    axisTick: {show: true, customValues: xVals, length: 4, lineStyle: {color: INK, width: 1}},
    axisLabel: {customValues: xVals, formatter: v => xLab.get(v) || '', color: INK, fontFamily: FONT, fontSize: 12, margin: 7, lineHeight: 16},
    splitLine: {show: false}
  });

  const yVals = cfg.yTicks.map(Number);
  yAxes.push({
    type: 'value', gridIndex: gi, min: cfg.y[0], max: cfg.y[1],
    axisLine: {show: !cfg.border, onZero: false, lineStyle: {color: INK, width: 1.1}},
    axisTick: {show: true, customValues: yVals, length: 4, lineStyle: {color: INK, width: 1}},
    axisLabel: {customValues: yVals, formatter: v => cfg.yTicks[yVals.indexOf(v)] || '', color: INK, fontFamily: FONT, fontSize: 12, margin: 7},
    splitLine: {show: false}
  });

  const base = {xAxisIndex: gi, yAxisIndex: gi, silent: true, animation: false};

  series.push(Object.assign({
    type: 'custom', name: cfg.name + ' zones', z: 1, clip: true,
    renderItem: zoneRender(cfg.zones), data: cfg.zones.map(d => [d[0], d[2]])
  }, base));

  series.push(Object.assign({
    type: 'candlestick', name: cfg.name, z: 3, barWidth: cfg.barW,
    data: cfg.candles.map((c, i) => [i, c[0], c[1], c[2], c[3]]),
    encode: {x: 0, y: [1, 2, 3, 4]},
    itemStyle: {color: UP, color0: DOWN, borderColor: UP_B, borderColor0: DOWN_B, borderWidth: 1}
  }, base));

  series.push(Object.assign({
    type: 'custom', name: cfg.name + ' levels', z: 4, clip: true,
    renderItem: levelRender(cfg.levels, k), data: cfg.levels.map(d => [d[0], d[2]])
  }, base));

  series.push(Object.assign({
    type: 'custom', name: cfg.name + ' phases', z: 4, clip: true,
    renderItem: barRender(cfg.bars, cfg.main ? 7.5 : 2.6), data: cfg.bars.map(d => [d[0], d[2]])
  }, base));

  series.push(Object.assign({
    type: 'scatter', name: cfg.name + ' lows', z: 5, symbolSize: cfg.main ? 6 : 5,
    itemStyle: {color: '#ff0000'}, data: cfg.lows
  }, base));
  series.push(Object.assign({
    type: 'scatter', name: cfg.name + ' highs', z: 5, symbolSize: cfg.main ? 6 : 5,
    itemStyle: {color: '#008000'}, data: cfg.highs
  }, base));

  if (cfg.notes) {
    series.push(Object.assign({
      type: 'custom', name: cfg.name + ' leaders', z: 6, clip: false,
      renderItem: leaderRender(cfg.leaders), data: cfg.leaders.map(d => [d[0], d[1]])
    }, base));
    series.push(Object.assign({
      type: 'custom', name: cfg.name + ' notes', z: 6, clip: false,
      renderItem: noteRender(cfg.notes), data: cfg.notes.map(d => [d[1], d[2]])
    }, base));
  }

  // watermark centred in the plot
  graphics.push({
    type: 'text', z: 50,
    x: cfg.grid.left + cfg.grid.width / 2, y: cfg.grid.top + cfg.grid.height / 2,
    style: {text: cfg.name, font: '20px ' + FONT, fill: 'rgba(70,70,70,0.72)', align: 'center', verticalAlign: 'middle'}
  });
});

// title
graphics.push({
  type: 'text', x: 96, y: 44,
  style: {text: titleText, font: 'bold 17px ' + FONT, fill: '#1a1a1a', align: 'left', verticalAlign: 'middle'}
});

// text panel on the right
const PANEL_X = {c: 1713, w: 1740, i: 1623, l: 1588};
const rule = '-'.repeat(72);
panelLines.forEach((ln, n) => {
  const txt = ln[0] === '-' ? rule : ln[0];
  if (!txt) return;
  const centred = ln[1] === 'c' || ln[1] === 'w';
  graphics.push({
    type: 'text', x: PANEL_X[ln[1]], y: 88.3 + n * 12.38,
    style: {text: txt, font: '9.5px ' + FONT, fill: '#222', align: centred ? 'center' : 'left', verticalAlign: 'middle'}
  });
});

const chart = echarts.init(document.getElementById('chart'), null, {renderer: 'canvas'});
chart.setOption({
  animation: false,
  backgroundColor: '#ffffff',
  grid: grids,
  xAxis: xAxes,
  yAxis: yAxes,
  series: series,
  graphic: graphics
});
</script>
</body>
</html>
